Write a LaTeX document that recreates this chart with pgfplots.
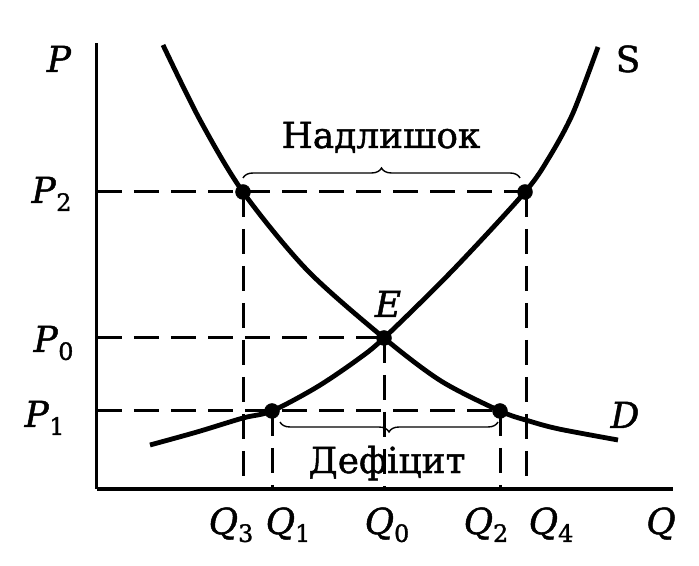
\documentclass[border=0pt]{standalone}
\usepackage{pgfplots}
\pgfplotsset{compat=1.18}
\usepackage{fontspec}
\setmainfont{DejaVu Serif}[FakeBold=1.3]
\usetikzlibrary{decorations.pathreplacing}
\tikzset{lbl/.style={font=\fontsize{36}{40}\selectfont}}
\newcommand{\lab}[2]{\textit{#1}\raisebox{-0.22em}{\fontsize{24}{24}\selectfont #2}}
\begin{document}
\begin{tikzpicture}
\begin{axis}[
  scale only axis, width=576bp, height=446bp,
  xmin=0, xmax=576, ymin=0, ymax=446,
  axis x line=bottom, axis y line=left,
  axis line style={line width=3bp, -},
  xtick=\empty, ytick=\empty,
  clip=false,
]
\path (axis cs:-97,-77) rectangle (axis cs:602,489);
% dashed guide lines
\addplot[line width=3bp, dash pattern=on 25bp off 12bp] coordinates {(0,297) (428,297)};
\addplot[line width=3bp, dash pattern=on 25bp off 12bp] coordinates {(0,151) (287,151)};
\addplot[line width=3bp, dash pattern=on 25bp off 12bp] coordinates {(0,78) (403,78)};
\addplot[line width=3bp, dash pattern=on 25bp off 12bp] coordinates {(146,297) (146,0)};
\addplot[line width=3bp, dash pattern=on 25bp off 12bp] coordinates {(175,78) (175,0)};
\addplot[line width=3bp, dash pattern=on 25bp off 12bp] coordinates {(287,151) (287,0)};
\addplot[line width=3bp, dash pattern=on 25bp off 12bp] coordinates {(403,78) (403,0)};
\addplot[line width=3bp, dash pattern=on 25bp off 12bp] coordinates {(429,297) (429,0)};
% demand
\addplot[line width=4.8bp, smooth] coordinates {(66,444) (103,369) (146,297) (210,219) (287,151) (344,108) (403,78) (432,68) (462,60) (521,49)};
% supply
\addplot[line width=4.8bp, smooth] coordinates {(53,44) (100,57) (146,71) (175,78) (220,102) (260,129) (287,151) (356,219) (428,297) (453,333) (476,376) (501,442)};
% points
\addplot[only marks, mark=*, mark size=7.5bp] coordinates {(146,297) (428,297) (287,151) (175,78) (403,78)};
% braces
\draw[decorate, decoration={brace, amplitude=10bp}, line width=1.4bp] (axis cs:146,311) -- (axis cs:423,311);
\draw[decorate, decoration={brace, amplitude=10bp}, line width=1.4bp] (axis cs:401,67) -- (axis cs:183,67);
% labels
\node[lbl, anchor=base] at (axis cs:284,341) {Надлишок};
\node[lbl, anchor=base] at (axis cs:290,16) {Дефіцит};
\node[lbl, anchor=base east] at (axis cs:-22,417) {\textit{P}};
\node[lbl, anchor=base east] at (axis cs:-22,286) {\lab{P}{2}};
\node[lbl, anchor=base east] at (axis cs:-20,137) {\lab{P}{0}};
\node[lbl, anchor=base east] at (axis cs:-29,62) {\lab{P}{1}};
\node[lbl, anchor=base] at (axis cs:134,-45) {\lab{Q}{3}};
\node[lbl, anchor=base] at (axis cs:191,-45) {\lab{Q}{1}};
\node[lbl, anchor=base] at (axis cs:290,-45) {\lab{Q}{0}};
\node[lbl, anchor=base] at (axis cs:389,-45) {\lab{Q}{2}};
\node[lbl, anchor=base] at (axis cs:454,-45) {\lab{Q}{4}};
\node[lbl, anchor=base] at (axis cs:564,-45) {\textit{Q}};
\node[lbl, anchor=base] at (axis cs:531,417) {S};
\node[lbl, anchor=base] at (axis cs:528,61) {\textit{D}};
\node[lbl, anchor=base] at (axis cs:291,172) {\textit{E}};
\end{axis}
\end{tikzpicture}
\end{document}
